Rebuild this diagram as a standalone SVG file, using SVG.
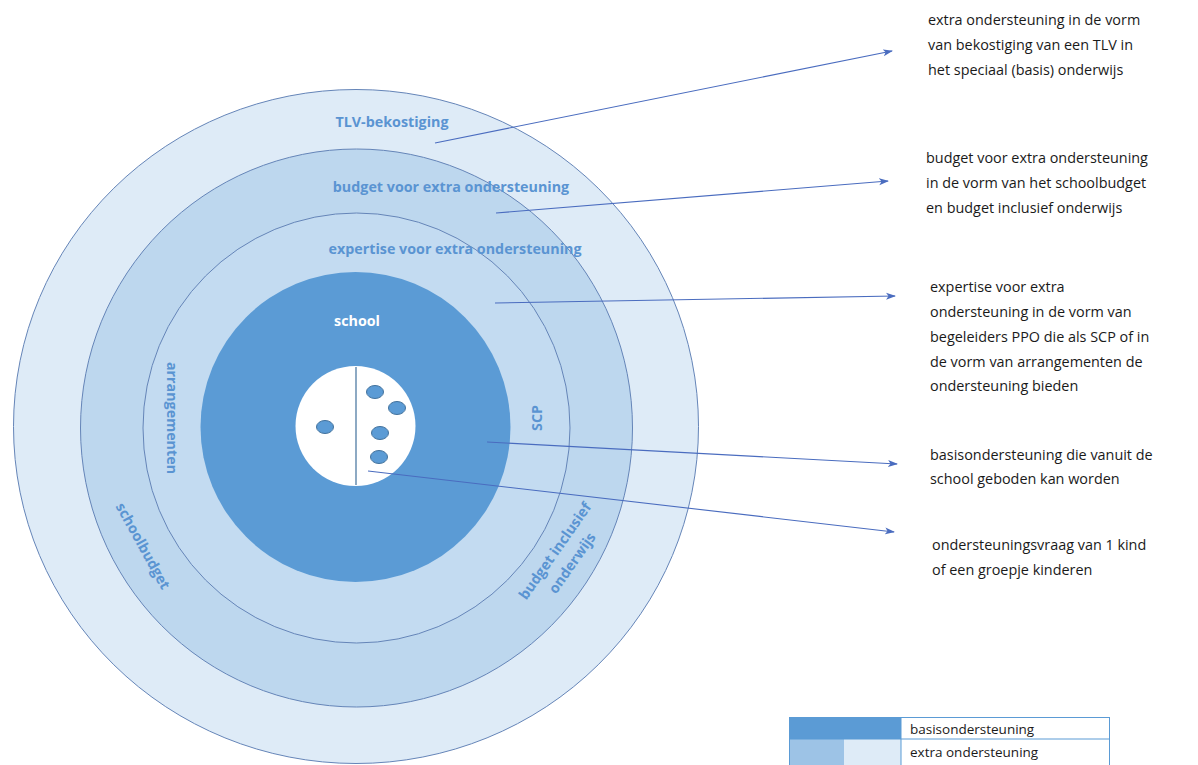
<svg xmlns="http://www.w3.org/2000/svg" width="1198" height="765" viewBox="0 0 1198 765">
<style>
.ring{stroke:#6585b8;stroke-width:1}
.lbl{font-family:"Open Sans","Liberation Sans",sans-serif;font-weight:700;font-size:14.3px;fill:#5a94d2;text-anchor:middle}
.txt{font-family:"Open Sans","Liberation Sans",sans-serif;font-size:14.4px;fill:#1a1a1a}
.con{stroke:#4a6cbf;stroke-width:1.1;fill:none;marker-end:url(#ah)}
.dot{fill:#5b9bd5;stroke:#41719c;stroke-width:1}
.leg{font-family:"Open Sans","Liberation Sans",sans-serif;font-size:13.5px;fill:#1a1a1a}
</style>
<defs>
<marker id="ah" markerWidth="10" markerHeight="8" refX="9" refY="4" orient="auto" markerUnits="userSpaceOnUse">
<path d="M0,0.5 L10,4 L0,7.5 L2.5,4 Z" fill="#4a6cbf"/>
</marker>
</defs>
<rect width="1198" height="765" fill="#ffffff"/>
<g id="ring-tlv">
<ellipse cx="356" cy="426.5" rx="342.5" ry="337" fill="#deebf7" class="ring"/>
<text class="lbl" x="392" y="127">TLV-bekostiging</text>
</g>
<g id="ring-budget">
<ellipse cx="356.5" cy="428" rx="276" ry="279" fill="#bdd7ee" class="ring"/>
<text class="lbl" x="451" y="192">budget voor extra ondersteuning</text>
<text class="lbl" transform="translate(143,546) rotate(61)" y="5">schoolbudget</text>
<text class="lbl" transform="translate(555,551) rotate(-55)" y="5">budget inclusief</text>
<text class="lbl" transform="translate(572,563) rotate(-55)" y="5">onderwijs</text>
</g>
<g id="ring-expertise">
<ellipse cx="356.5" cy="428" rx="213.5" ry="215" fill="#c3dbf1" class="ring"/>
<text class="lbl" x="455" y="254">expertise voor extra ondersteuning</text>
<text class="lbl" transform="translate(172,418) rotate(90)" y="5">arrangementen</text>
<text class="lbl" transform="translate(537,418) rotate(-90)" y="5">SCP</text>
</g>
<g id="school">
<circle cx="355.5" cy="427" r="155" fill="#5b9bd5"/>
<text class="lbl" x="357" y="326" style="fill:#ffffff">school</text>
</g>
<g id="kind">
<circle cx="355.5" cy="426" r="60" fill="#ffffff"/>
<line x1="356" y1="367" x2="356" y2="485" stroke="#41719c" stroke-width="1.2"/>
<ellipse class="dot" cx="325" cy="427" rx="8.5" ry="6.5"/>
<ellipse class="dot" cx="375" cy="392" rx="8.5" ry="6.5"/>
<ellipse class="dot" cx="397" cy="408" rx="8.5" ry="6.5"/>
<ellipse class="dot" cx="380" cy="433" rx="8.5" ry="6.5"/>
<ellipse class="dot" cx="379" cy="457" rx="8.5" ry="6.5"/>
</g>
<g id="connectors">
<line class="con" x1="435" y1="143" x2="892" y2="51"/>
<line class="con" x1="496" y1="213" x2="888" y2="181"/>
<line class="con" x1="495" y1="303" x2="895" y2="296"/>
<line class="con" x1="487" y1="442" x2="897" y2="464"/>
<line class="con" x1="368" y1="471" x2="894" y2="532"/>
</g>
<g id="desc-tlv">
<text class="txt" x="928" y="25">extra ondersteuning in de vorm</text>
<text class="txt" x="928" y="50">van bekostiging van een TLV in</text>
<text class="txt" x="928" y="75">het speciaal (basis) onderwijs</text>
</g>
<g id="desc-budget">
<text class="txt" x="926" y="163">budget voor extra ondersteuning</text>
<text class="txt" x="926" y="188">in de vorm van het schoolbudget</text>
<text class="txt" x="926" y="213">en budget inclusief onderwijs</text>
</g>
<g id="desc-expertise">
<text class="txt" x="930" y="292">expertise voor extra</text>
<text class="txt" x="930" y="317">ondersteuning in de vorm van</text>
<text class="txt" x="930" y="342">begeleiders PPO die als SCP of in</text>
<text class="txt" x="930" y="367">de vorm van arrangementen de</text>
<text class="txt" x="930" y="391">ondersteuning bieden</text>
</g>
<g id="desc-basis">
<text class="txt" x="930" y="460">basisondersteuning die vanuit de</text>
<text class="txt" x="930" y="484">school geboden kan worden</text>
</g>
<g id="desc-vraag">
<text class="txt" x="932" y="550">ondersteuningsvraag van 1 kind</text>
<text class="txt" x="932" y="575">of een groepje kinderen</text>
</g>
<g id="legend">
<rect x="789" y="717" width="112" height="22" fill="#5b9bd5"/>
<rect x="789" y="739" width="55" height="27" fill="#9dc3e6"/>
<rect x="844" y="739" width="57" height="27" fill="#deebf7"/>
<rect x="789.5" y="717.5" width="320" height="50" fill="none" stroke="#5b9bd5" stroke-width="1"/>
<line x1="789" y1="739" x2="1110" y2="739" stroke="#5b9bd5" stroke-width="1"/>
<line x1="901" y1="717" x2="901" y2="766" stroke="#5b9bd5" stroke-width="1"/>
<text class="leg" x="910" y="734">basisondersteuning</text>
<text class="leg" x="910" y="757">extra ondersteuning</text>
</g>
</svg>
